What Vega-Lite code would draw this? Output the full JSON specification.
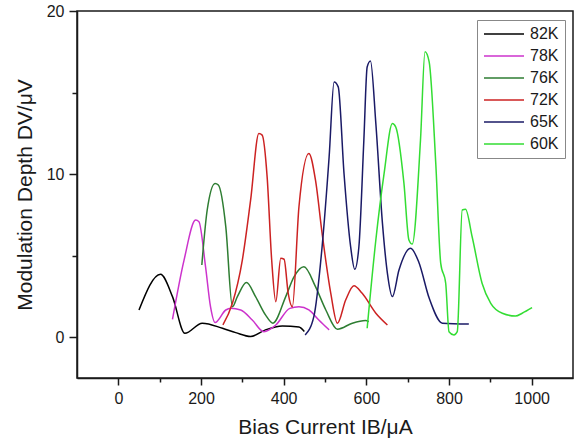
{
  "$schema": "https://vega.github.io/schema/vega-lite/v6.json",
  "width": 496,
  "height": 367,
  "autosize": {"type": "none"},
  "padding": {"left": 77, "top": 11, "right": 2, "bottom": 66},
  "background": "white",
  "config": {
    "font": "Liberation Sans",
    "view": {"stroke": "#1a1a1a", "strokeWidth": 1.5},
    "axis": {"grid": false, "domainColor": "#1a1a1a", "domainWidth": 1.5, "tickColor": "#1a1a1a", "tickWidth": 1.5, "labelColor": "#1a1a1a", "titleColor": "#1a1a1a", "labelFont": "Liberation Sans", "titleFont": "Liberation Sans", "titleFontWeight": "normal", "labelFontSize": 16, "titleFontSize": 21}
  },
  "data": {"values": [
    {"T":"82K","I":50,"V":1.67},{"T":"82K","I":102,"V":3.86},{"T":"82K","I":131,"V":2.49},{"T":"82K","I":161,"V":0.24},{"T":"82K","I":203,"V":0.86},{"T":"82K","I":252,"V":0.55},{"T":"82K","I":284,"V":0.28},{"T":"82K","I":320,"V":0.04},{"T":"82K","I":356,"V":0.45},{"T":"82K","I":397,"V":0.69},{"T":"82K","I":437,"V":0.62},{"T":"82K","I":450,"V":0.35},
    {"T":"78K","I":131,"V":1.1},{"T":"78K","I":159,"V":4.73},{"T":"78K","I":187,"V":7.18},{"T":"78K","I":195,"V":7.08},{"T":"78K","I":211,"V":4.32},{"T":"78K","I":223,"V":1.87},{"T":"78K","I":234,"V":0.9},{"T":"78K","I":260,"V":1.67},{"T":"78K","I":272,"V":1.77},{"T":"78K","I":296,"V":1.67},{"T":"78K","I":324,"V":1.06},{"T":"78K","I":352,"V":0.34},{"T":"78K","I":381,"V":0.75},{"T":"78K","I":415,"V":1.77},{"T":"78K","I":437,"V":1.87},{"T":"78K","I":461,"V":1.67},{"T":"78K","I":485,"V":1.06},{"T":"78K","I":510,"V":0.45},
    {"T":"76K","I":202,"V":4.43},{"T":"76K","I":215,"V":7.8},{"T":"76K","I":234,"V":9.43},{"T":"76K","I":242,"V":9.33},{"T":"76K","I":260,"V":6.77},{"T":"76K","I":276,"V":1.87},{"T":"76K","I":288,"V":2.49},{"T":"76K","I":310,"V":3.35},{"T":"76K","I":332,"V":2.49},{"T":"76K","I":356,"V":1.37},{"T":"76K","I":374,"V":0.86},{"T":"76K","I":405,"V":2.49},{"T":"76K","I":425,"V":3.7},{"T":"76K","I":449,"V":4.32},{"T":"76K","I":477,"V":3.1},{"T":"76K","I":502,"V":1.67},{"T":"76K","I":530,"V":0.49},{"T":"76K","I":566,"V":0.86},{"T":"76K","I":598,"V":1.02},{"T":"76K","I":606,"V":0.96},
    {"T":"72K","I":253,"V":0.75},{"T":"72K","I":276,"V":2.08},{"T":"72K","I":300,"V":4.73},{"T":"72K","I":320,"V":8.4},{"T":"72K","I":340,"V":12.49},{"T":"72K","I":348,"V":12.39},{"T":"72K","I":360,"V":9.83},{"T":"72K","I":371,"V":4.73},{"T":"72K","I":381,"V":2.18},{"T":"72K","I":393,"V":4.84},{"T":"72K","I":401,"V":4.78},{"T":"72K","I":411,"V":2.69},{"T":"72K","I":421,"V":1.87},{"T":"72K","I":437,"V":8.0},{"T":"72K","I":461,"V":11.27},{"T":"72K","I":477,"V":9.63},{"T":"72K","I":493,"V":6.37},{"T":"72K","I":514,"V":2.69},{"T":"72K","I":530,"V":0.86},{"T":"72K","I":550,"V":2.28},{"T":"72K","I":570,"V":3.16},{"T":"72K","I":590,"V":2.69},{"T":"72K","I":623,"V":1.47},{"T":"72K","I":651,"V":0.75},
    {"T":"65K","I":452,"V":0.14},{"T":"65K","I":473,"V":1.26},{"T":"65K","I":493,"V":5.55},{"T":"65K","I":510,"V":11.06},{"T":"65K","I":522,"V":15.65},{"T":"65K","I":532,"V":15.35},{"T":"65K","I":546,"V":10.04},{"T":"65K","I":562,"V":5.55},{"T":"65K","I":572,"V":4.16},{"T":"65K","I":582,"V":5.55},{"T":"65K","I":594,"V":12.08},{"T":"65K","I":602,"V":16.57},{"T":"65K","I":610,"V":16.94},{"T":"65K","I":623,"V":13.1},{"T":"65K","I":639,"V":6.98},{"T":"65K","I":651,"V":3.92},{"T":"65K","I":663,"V":2.49},{"T":"65K","I":679,"V":4.12},{"T":"65K","I":707,"V":5.45},{"T":"65K","I":727,"V":4.6},{"T":"65K","I":752,"V":2.4},{"T":"65K","I":784,"V":0.86},{"T":"65K","I":848,"V":0.81},
    {"T":"60K","I":602,"V":0.55},{"T":"60K","I":623,"V":5.96},{"T":"60K","I":643,"V":10.04},{"T":"60K","I":663,"V":13.1},{"T":"60K","I":671,"V":12.9},{"T":"60K","I":691,"V":9.43},{"T":"60K","I":703,"V":5.96},{"T":"60K","I":711,"V":5.71},{"T":"60K","I":731,"V":12.08},{"T":"60K","I":742,"V":17.5},{"T":"60K","I":752,"V":16.88},{"T":"60K","I":768,"V":10.65},{"T":"60K","I":780,"V":4.53},{"T":"60K","I":792,"V":3.31},{"T":"60K","I":800,"V":0.34},{"T":"60K","I":812,"V":0.14},{"T":"60K","I":820,"V":0.34},{"T":"60K","I":832,"V":7.8},{"T":"60K","I":840,"V":7.84},{"T":"60K","I":856,"V":6.16},{"T":"60K","I":880,"V":3.31},{"T":"60K","I":901,"V":2.08},{"T":"60K","I":929,"V":1.47},{"T":"60K","I":961,"V":1.3},{"T":"60K","I":977,"V":1.47},{"T":"60K","I":1001,"V":1.81}
  ]},
  "mark": {"type": "line", "strokeWidth": 1.5, "interpolate": "monotone"},
  "encoding": {
    "x": {"field": "I", "type": "quantitative", "scale": {"domain": [-100, 1100], "nice": false, "zero": false},
      "axis": {"orient": "bottom", "values": [0, 100, 200, 300, 400, 500, 600, 700, 800, 900, 1000], "format": "d",
        "labelExpr": "datum.value % 200 == 0 ? datum.label : ''",
        "tickSize": {"condition": {"test": "datum.value % 200 == 0", "value": 7}, "value": 4},
        "labelPadding": 5, "title": "Bias Current IB/μA", "titlePadding": 10}},
    "y": {"field": "V", "type": "quantitative", "scale": {"domain": [-2.5, 20], "nice": false, "zero": false},
      "axis": {"orient": "left", "values": [0, 5, 10, 15, 20],
        "labelExpr": "datum.value % 10 == 0 ? datum.label : ''",
        "tickSize": {"condition": {"test": "datum.value % 10 == 0", "value": 8}, "value": 5},
        "labelPadding": 5, "title": "Modulation Depth DV/μV", "titlePadding": 11}},
    "color": {"field": "T", "type": "nominal",
      "scale": {"domain": ["82K", "78K", "76K", "72K", "65K", "60K"], "range": ["#000000", "#cc33cc", "#2e7d32", "#cc2222", "#1a1a66", "#33dd33"]},
      "legend": {"orient": "none", "legendX": 400, "legendY": 9, "title": null, "symbolType": "stroke", "symbolSize": 1600, "symbolStrokeWidth": 1.5, "clipHeight": 16, "labelFontSize": 16, "labelFont": "Liberation Sans", "labelColor": "#1a1a1a", "strokeColor": "#888888", "padding": 6, "rowPadding": 6, "labelOffset": 5}}
  }
}
